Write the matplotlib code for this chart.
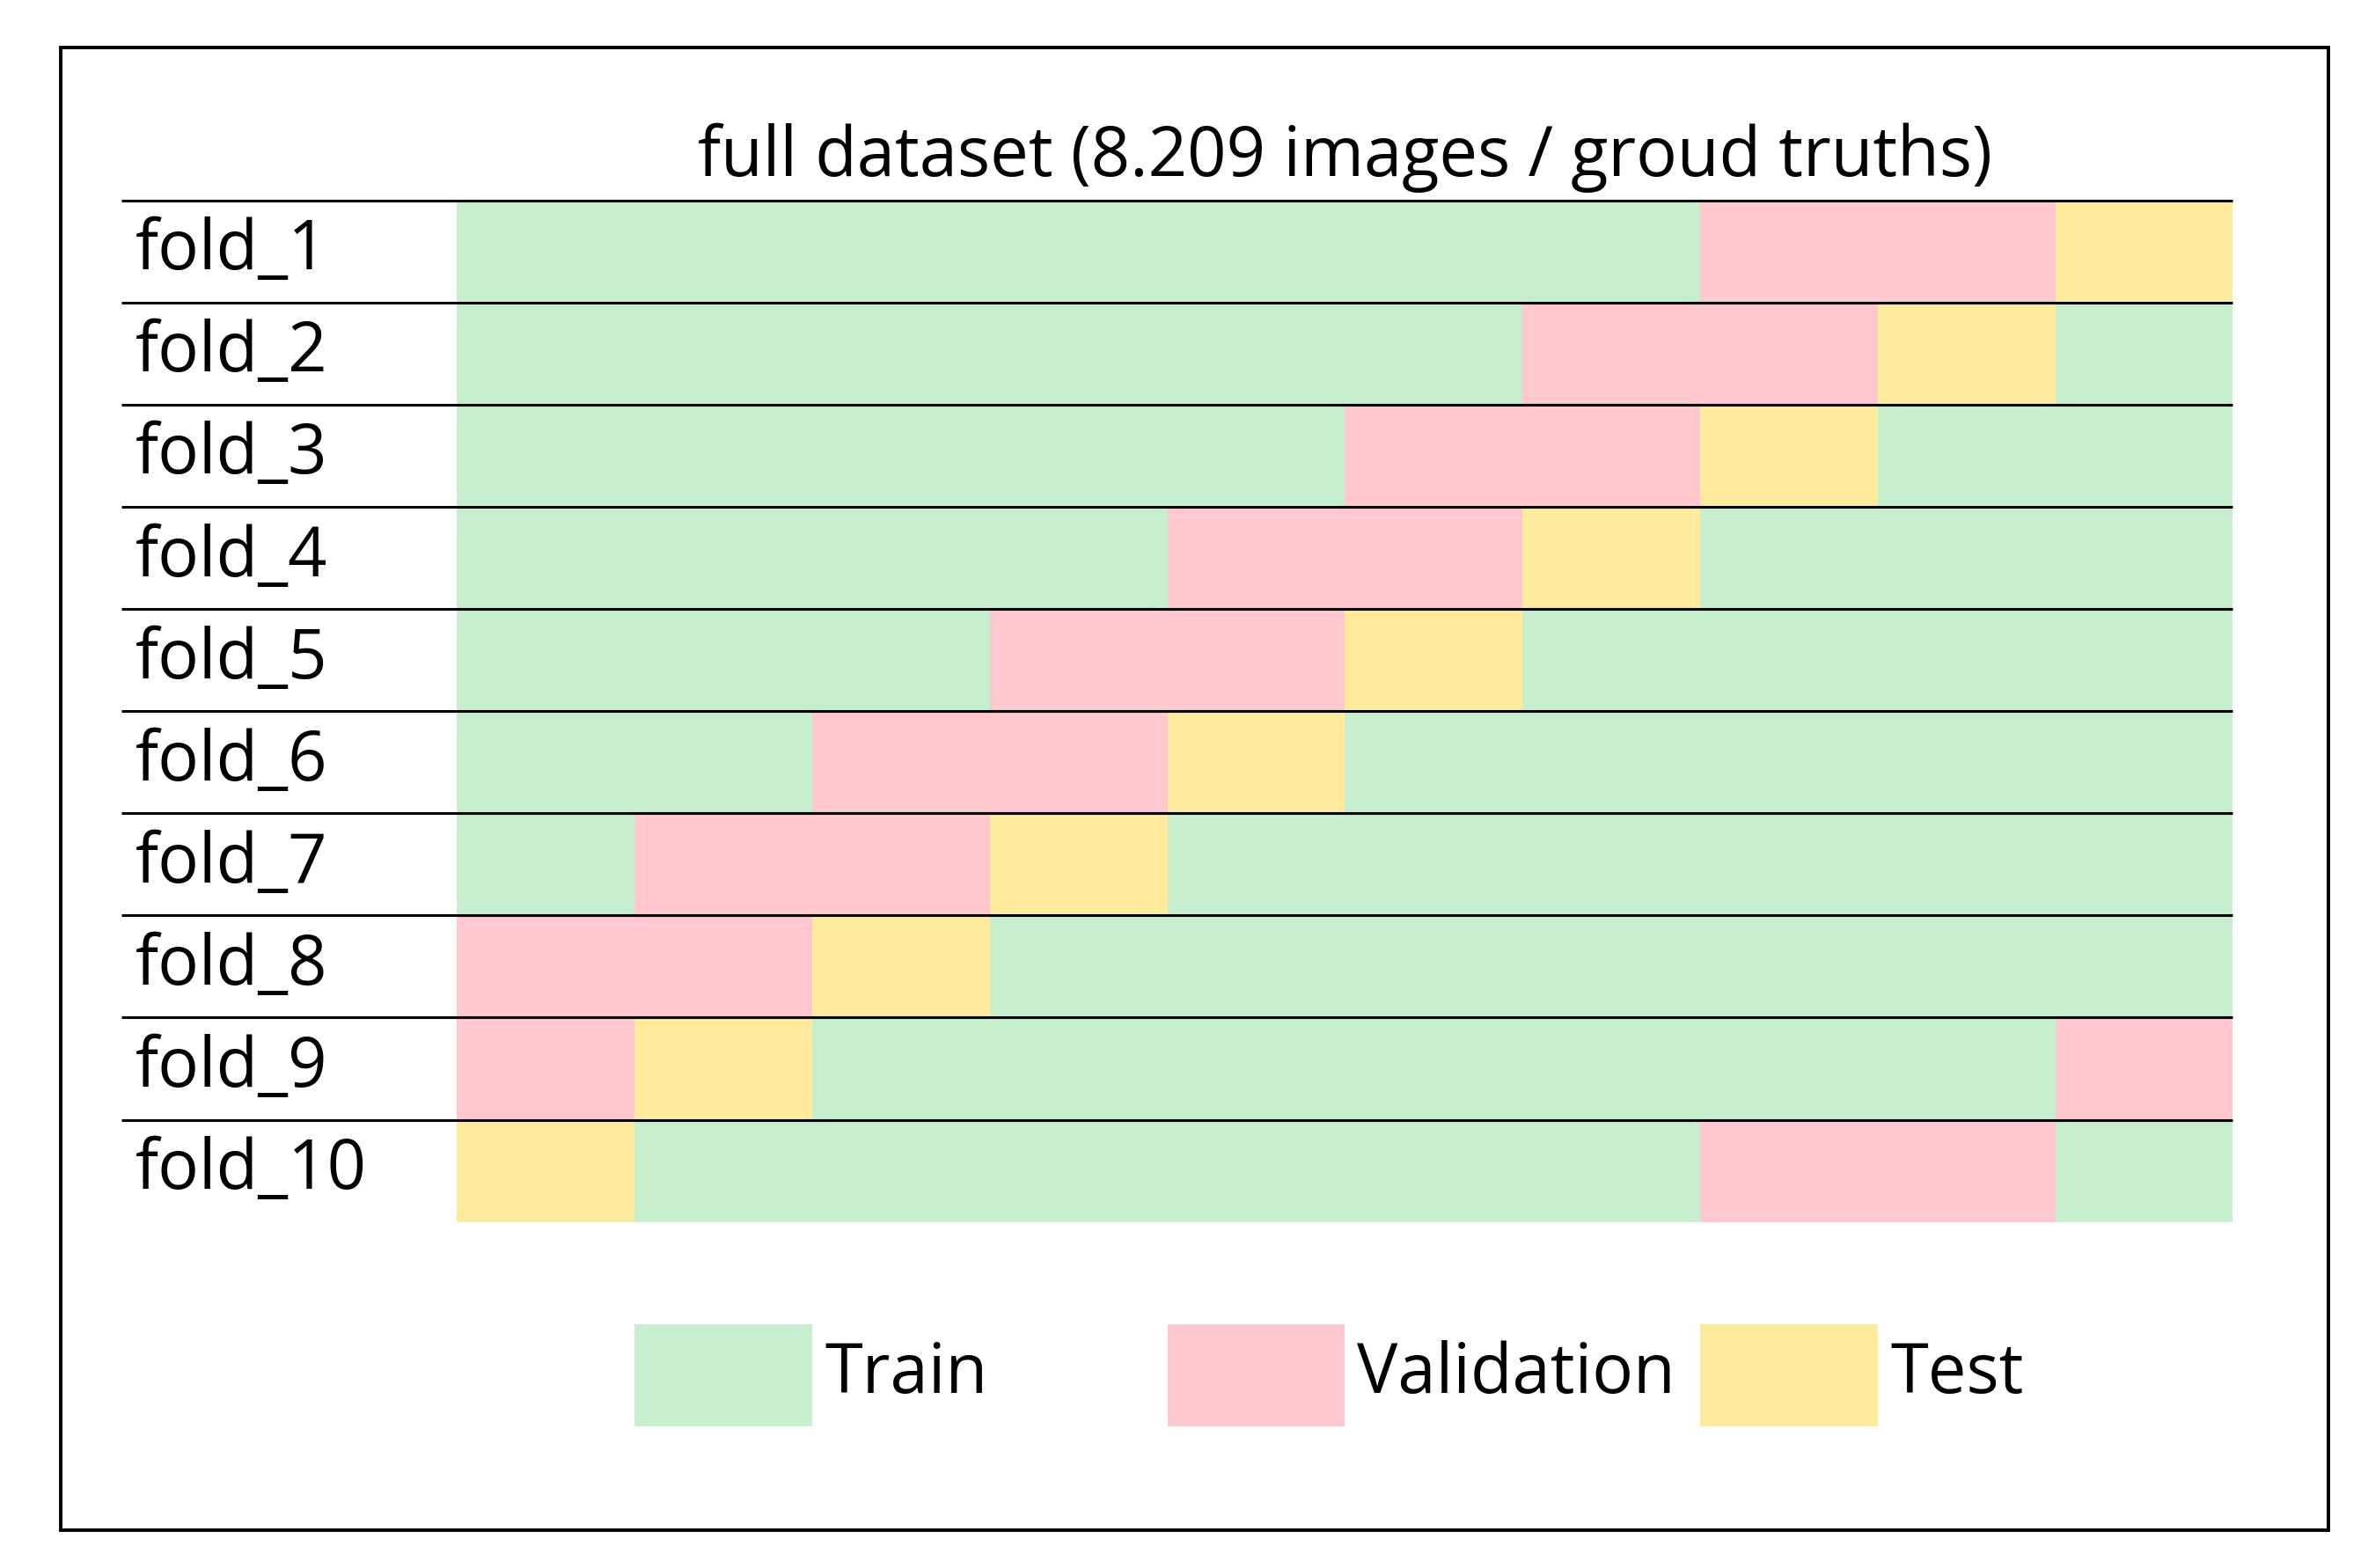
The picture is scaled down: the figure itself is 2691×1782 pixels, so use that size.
import matplotlib
matplotlib.use("Agg")
import matplotlib.pyplot as plt
from matplotlib.patches import Rectangle

plt.rcParams['font.family'] = ['Open Sans', 'DejaVu Sans']

folds = [f"fold_{i}" for i in range(1, 11)]
# each fold: list of (category, length in tenths of dataset)
segments = [
    [("Train", 7), ("Validation", 2), ("Test", 1)],
    [("Train", 6), ("Validation", 2), ("Test", 1), ("Train", 1)],
    [("Train", 5), ("Validation", 2), ("Test", 1), ("Train", 2)],
    [("Train", 4), ("Validation", 2), ("Test", 1), ("Train", 3)],
    [("Train", 3), ("Validation", 2), ("Test", 1), ("Train", 4)],
    [("Train", 2), ("Validation", 2), ("Test", 1), ("Train", 5)],
    [("Train", 1), ("Validation", 2), ("Test", 1), ("Train", 6)],
    [("Validation", 2), ("Test", 1), ("Train", 7)],
    [("Validation", 1), ("Test", 1), ("Train", 7), ("Validation", 1)],
    [("Test", 1), ("Train", 6), ("Validation", 2), ("Train", 1)],
]
categories = ["Train", "Validation", "Test"]
colors = {"Train": "#C6EFCE", "Validation": "#FFC7CE", "Test": "#FFEB9C"}
title = "full dataset (8.209 images / groud truths)"

fig = plt.figure(figsize=(26.91, 17.82), dpi=100)
ax = fig.add_axes([0, 0, 1, 1])
ax.set_xlim(-2.573, 10.761)
ax.set_ylim(13.388, -1.961)
ax.axis("off")

for i, (name, segs) in enumerate(zip(folds, segments)):
    left = 0
    for cat, w in segs:
        ax.barh(i + 0.5, w, left=left, height=1.0, color=colors[cat], linewidth=0)
        left += w
    ax.text(-1.81, i + 0.5, name, fontsize=56, va="center", ha="left")
for i in range(10):
    ax.plot([-1.89, 10], [i, i], color="black", lw=2.2, solid_capstyle="butt")

ax.text(5.0, -0.42, title, fontsize=56, ha="center", va="center")

for k, cat in enumerate(categories):
    x0 = 1 + 3 * k
    ax.add_patch(Rectangle((x0, 11.0), 1, 1.0, color=colors[cat], lw=0))
    ax.text(x0 + 1.07, 11.5, cat, fontsize=56, va="center", ha="left")

ax.add_patch(Rectangle((-2.23, -1.5), 12.77, 14.52, fill=False, ec="black", lw=2.8))

fig.savefig("out.png", dpi=100)
